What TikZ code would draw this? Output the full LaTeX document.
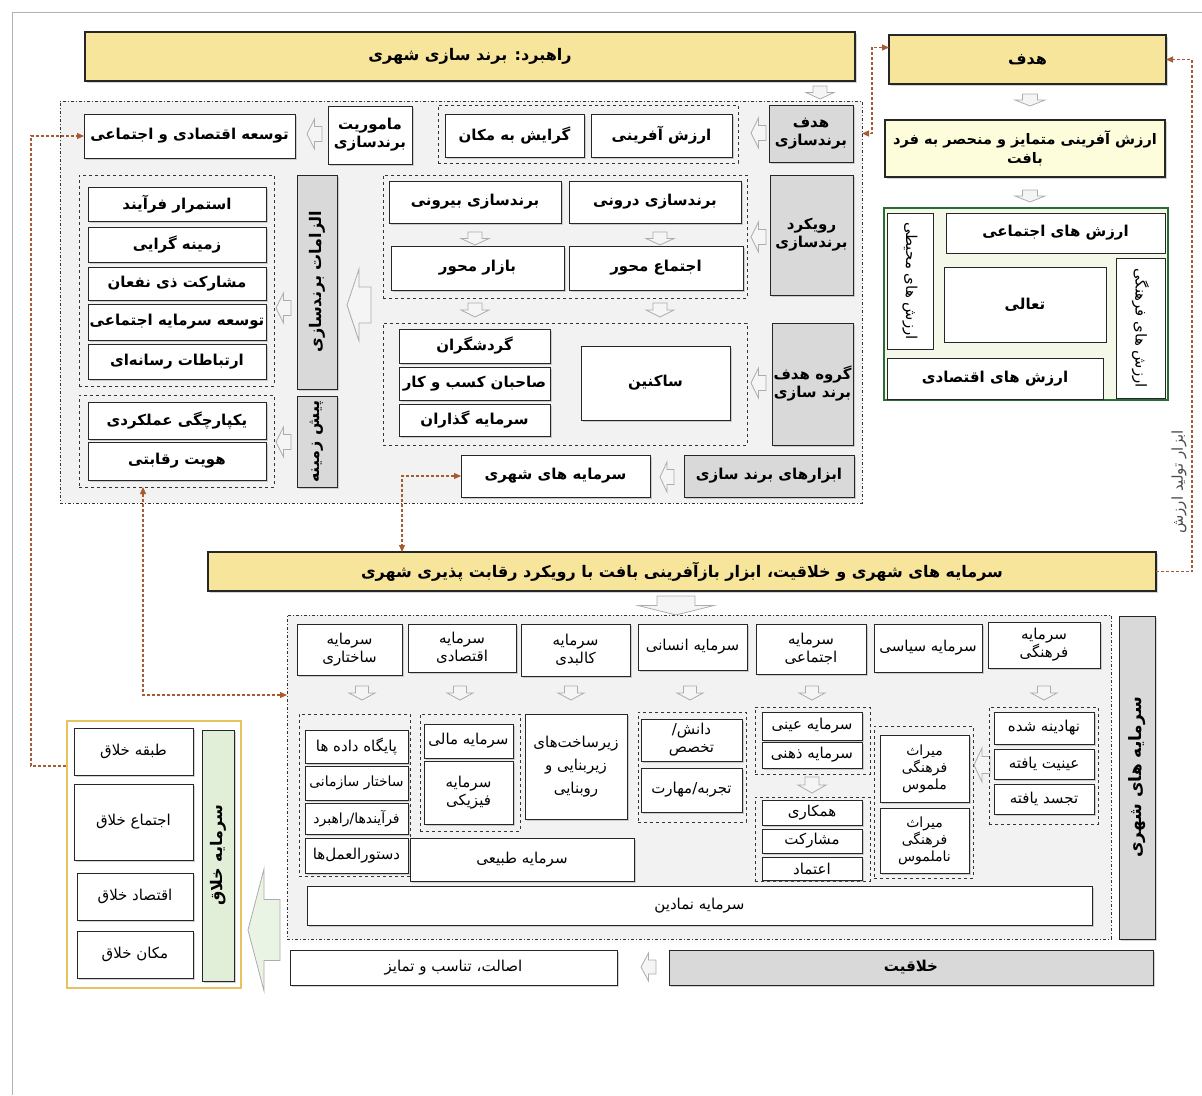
\documentclass[tikz,border=0pt]{standalone}
\usepackage{fontspec}
\usetikzlibrary{shadows,arrows.meta}
\newfontfamily\fa[Script=Arabic]{DejaVu Sans}
\TeXXeTstate=1
\newcommand\fatx[1]{\beginR #1\endR}
\definecolor{yband}{HTML}{F8E59C}
\definecolor{lyel}{HTML}{FDFDDC}
\definecolor{lgreen}{HTML}{F3F8E8}
\definecolor{lgreenB}{HTML}{E1EFD9}
\definecolor{dgreen}{HTML}{2D6A35}
\definecolor{goldb}{HTML}{E6C35C}
\definecolor{siennaC}{HTML}{A85A32}
\newcommand\mybx[7][]{\node[bx,#1,minimum width={#5-#3},minimum height={#6-#4}] (#2) at ({(#3+#5)/2},{(#4+#6)/2}) {#7};}
\newcommand\mydarr[4]{\draw[harrow] ({#1-#3/4},#2) -- ({#1+#3/4},#2) -- ({#1+#3/4},{#2+#4/2}) -- ({#1+#3/2},{#2+#4/2}) -- (#1,{#2+#4}) -- ({#1-#3/2},{#2+#4/2}) -- ({#1-#3/4},{#2+#4/2}) -- cycle;}
\newcommand\mylarr[5][]{\draw[harrow,#1] (#2,#3) -- ({#2+#4*0.5},{#3-#5/2}) -- ({#2+#4*0.5},{#3-#5/4}) -- ({#2+#4},{#3-#5/4}) -- ({#2+#4},{#3+#5/4}) -- ({#2+#4*0.5},{#3+#5/4}) -- ({#2+#4*0.5},{#3+#5/2}) -- cycle;}
\begin{document}
\begin{tikzpicture}[x=1pt,y=-1pt,
  bx/.style={draw=black!85, line width=1pt, fill=white, inner sep=1pt, outer sep=0pt, align=center, text=black, font=\fa\bfseries\fontsize{15}{18}\selectfont},
  sm/.style={font=\fa\fontsize{15}{18}\selectfont},
  rg/.style={font=\fa\fontsize{15}{18}\selectfont},
  sh/.style={drop shadow={shadow xshift=1.5pt,shadow yshift=-1.5pt,opacity=.35}},
  gbx/.style={fill=black!15, font=\fa\bfseries\fontsize{15}{18}\selectfont},
  ybx/.style={fill=yband, line width=1.6pt, font=\fa\bfseries\fontsize{16}{19}\selectfont},
  grp/.style={draw=black!80, dashed, line width=0.9pt, fill=none},
  pnl/.style={draw=black!80, dash dot, line width=1pt, fill=black!5},
  harrow/.style={draw=gray!65, fill=gray!8, line width=0.8pt, line join=miter},
  vtxt/.style={font=\fa\bfseries\fontsize{16}{18}\selectfont, inner sep=0pt},
  vtxs/.style={font=\fa\fontsize{15}{17}\selectfont, inner sep=0pt},
  conn/.style={draw=siennaC, densely dashed, line width=1.1pt},
  >={Triangle[length=7pt,width=6pt]}
]
\useasboundingbox (0,0) rectangle (1202,1095);
\draw[gray!60, line width=1pt] (12,1095) -- (12,12) -- (1202,12);

% ---------- top right ----------
\mybx[ybx,sh]{hadaf}{889}{35}{1166}{84}{\fatx{هدف}}
\mydarr{1030}{94}{30}{12}
\mybx[fill=lyel,sh,line width=1.3pt,font=\fa\bfseries\fontsize{14.5}{19}\selectfont]{arzeshA}{885}{120}{1165}{177}{\fatx{ارزش آفرینی متمایز و منحصر به فرد}\\\fatx{بافت}}
\mydarr{1030}{190}{30}{12}
\mybx[draw=dgreen,line width=1.6pt,fill=lgreen]{valbox}{884}{208}{1168}{400}{}
\mybx{vsoc}{946}{213}{1165}{253}{\fatx{ارزش های اجتماعی}}
\mybx{venv}{887}{213}{933}{349}{}
\node[vtxs,rotate=-90] (venvt) at (venv) {\fatx{ارزش های محیطی}};
\mybx{vtal}{944}{267}{1106}{342}{\fatx{تعالی}}
\mybx{vcul}{1116}{258}{1165}{398}{}
\node[vtxs,rotate=-90] (vcult) at (vcul) {\fatx{ارزش های فرهنگی}};
\mybx{veco}{887}{358}{1103}{399}{\fatx{ارزش های اقتصادی}}

% ---------- top band ----------
\mybx[ybx,sh]{rahbord}{85}{32}{855}{81}{\fatx{راهبرد: برند سازی شهری}}

% ---------- panel A ----------
\mybx[pnl]{panelA}{60}{101}{862}{503}{}
\mydarr{820}{86}{28}{13}
\mybx[gbx,sh]{hbrand}{769}{105}{853}{162}{\fatx{هدف}\\\fatx{برندسازی}}
\mylarr{751}{133}{15}{30}
\mybx[grp]{g1}{438}{105}{738}{163}{}
\mybx[sh]{arzAf}{591}{114}{732}{157}{\fatx{ارزش آفرینی}}
\mybx[sh]{gerayesh}{445}{114}{584}{157}{\fatx{گرایش به مکان}}
\mybx[sh]{mamur}{328}{106}{412}{164}{\fatx{ماموریت}\\\fatx{برندسازی}}
\mylarr{307}{134}{15}{30}
\mybx[sh]{tose}{84}{114}{295}{158}{\fatx{توسعه اقتصادی و اجتماعی}}

\mybx[gbx,sh]{ruykard}{770}{175}{853}{295}{\fatx{رویکرد}\\\fatx{برندسازی}}
\mylarr{751}{237}{15}{30}
\mybx[grp]{g2}{383}{175}{747}{298}{}
\mybx[sh]{darun}{569}{181}{741}{223}{\fatx{برندسازی درونی}}
\mybx[sh]{birun}{389}{181}{561}{223}{\fatx{برندسازی بیرونی}}
\mydarr{660}{232}{28}{13}
\mydarr{475}{232}{28}{13}
\mybx[sh]{ejtmah}{569}{246}{743}{290}{\fatx{اجتماع محور}}
\mybx[sh]{bazar}{391}{246}{564}{290}{\fatx{بازار محور}}
\mydarr{660}{303}{28}{14}
\mydarr{475}{303}{28}{14}

\mybx[gbx,sh]{goruh}{772}{323}{853}{445}{\fatx{گروه هدف}\\\fatx{برند سازی}}
\mylarr{751}{383}{15}{30}
\mybx[grp]{g3}{383}{323}{747}{445}{}
\mybx[sh]{gard}{399}{329}{550}{363}{\fatx{گردشگران}}
\mybx[sh]{saheb}{399}{367}{550}{400}{\fatx{صاحبان کسب و کار}}
\mybx[sh]{sarg}{399}{404}{550}{436}{\fatx{سرمایه گذاران}}
\mybx[sh]{sakenin}{581}{346}{730}{420}{\fatx{ساکنین}}

\mybx[gbx,sh]{abzar}{684}{455}{854}{497}{\fatx{ابزارهای برند سازی}}
\mylarr{660}{477}{14}{30}
\mybx[sh]{sarshahri}{461}{455}{650}{497}{\fatx{سرمایه های شهری}}

\mylarr{347}{305}{24}{72}
\mybx[gbx,sh]{elzam}{297}{175}{337}{389}{}
\node[vtxt,rotate=90] (elzamt) at (elzam) {\fatx{الزامات برندسازی}};
\mylarr{276}{308}{15}{30}
\mybx[grp]{g4}{79}{175}{274}{386}{}
\mybx[sh]{k1}{88}{187}{266}{221}{\fatx{استمرار فرآیند}}
\mybx[sh]{k2}{88}{227}{266}{262}{\fatx{زمینه گرایی}}
\mybx[sh]{k3}{88}{267}{266}{300}{\fatx{مشارکت ذی نفعان}}
\mybx[sh]{k4}{88}{304}{266}{340}{\fatx{توسعه سرمایه اجتماعی}}
\mybx[sh]{k5}{88}{344}{266}{379}{\fatx{ارتباطات رسانه^^^^200cای}}

\mybx[gbx,sh]{pish}{297}{396}{337}{487}{}
\node[vtxt,rotate=90] (pisht) at (pish) {\fatx{پیش زمینه}};
\mylarr{276}{442}{15}{30}
\mybx[grp]{g5}{79}{395}{274}{487}{}
\mybx[sh]{k6}{88}{402}{266}{439}{\fatx{یکپارچگی عملکردی}}
\mybx[sh]{k7}{88}{442}{266}{480}{\fatx{هویت رقابتی}}

% ---------- middle band ----------
\mybx[ybx,sh]{band}{208}{552}{1156}{591}{\fatx{سرمایه های شهری و خلاقیت، ابزار بازآفرینی بافت با رویکرد رقابت پذیری شهری}}
\mydarr{676}{596}{76}{19}

% ---------- panel B ----------
\mybx[pnl]{panelB}{287}{615}{1111}{939}{}
\mybx[gbx,sh]{shahriV}{1119}{616}{1155}{939}{}
\node[vtxt,rotate=90,font=\fa\bfseries\fontsize{17}{19}\selectfont] (shahriVt) at (shahriV) {\fatx{سرمایه های شهری}};

\mybx[sm,sh]{cfar}{988}{622}{1100}{668}{\fatx{سرمایه}\\\fatx{فرهنگی}}
\mybx[sm,sh]{csia}{874}{624}{982}{672}{\fatx{سرمایه سیاسی}}
\mybx[sm,sh]{cejt}{756}{624}{866}{674}{\fatx{سرمایه}\\\fatx{اجتماعی}}
\mybx[sm,sh]{cens}{638}{624}{747}{670}{\fatx{سرمایه انسانی}}
\mybx[sm,sh]{ckal}{521}{624}{630}{676}{\fatx{سرمایه}\\\fatx{کالبدی}}
\mybx[sm,sh]{ceqt}{408}{624}{516}{672}{\fatx{سرمایه}\\\fatx{اقتصادی}}
\mybx[sm,sh]{csak}{297}{624}{402}{675}{\fatx{سرمایه}\\\fatx{ساختاری}}

\mydarr{362}{686}{26}{14}
\mydarr{460}{686}{26}{14}
\mydarr{571}{686}{26}{14}
\mydarr{690}{686}{26}{14}
\mydarr{812}{686}{26}{14}
\mydarr{1044}{686}{26}{14}

\mybx[grp]{gs}{299}{714}{410}{876}{}
\mybx[sm,sh]{s1}{305}{730}{408}{763}{\fatx{پایگاه داده ها}}
\mybx[sm,sh,font=\fa\fontsize{14}{17}\selectfont]{s2}{305}{766}{408}{800}{\fatx{ساختار سازمانی}}
\mybx[sm,sh,font=\fa\fontsize{14}{17}\selectfont]{s3}{305}{803}{408}{834}{\fatx{فرآیندها/راهبرد}}
\mybx[sm,sh]{s4}{305}{838}{408}{873}{\fatx{دستورالعمل^^^^200cها}}

\mybx[grp]{ge}{420}{714}{520}{831}{}
\mybx[sm,sh]{e1}{424}{724}{513}{758}{\fatx{سرمایه مالی}}
\mybx[sm,sh]{e2}{424}{761}{513}{824}{\fatx{سرمایه}\\\fatx{فیزیکی}}

\mybx[sm,sh]{zir}{525}{714}{627}{819}{\fatx{زیرساخت^^^^200cهای}\\[5pt]\fatx{زیربنایی و}\\[5pt]\fatx{روبنایی}}
\mybx[sm,sh]{tabii}{410}{838}{634}{881}{\fatx{سرمایه طبیعی}}

\mybx[grp]{gh}{638}{712}{746}{822}{}
\mybx[sm,sh]{h1}{641}{719}{742}{761}{\fatx{دانش/}\\\fatx{تخصص}}
\mybx[sm,sh]{h2}{641}{768}{742}{812}{\fatx{تجربه/مهارت}}

\mybx[grp]{gj1}{755}{707}{870}{774}{}
\mybx[sm,sh]{j1}{762}{712}{862}{740}{\fatx{سرمایه عینی}}
\mybx[sm,sh]{j2}{762}{742}{862}{768}{\fatx{سرمایه ذهنی}}
\mydarr{812}{777}{28}{16}
\mybx[grp]{gj2}{755}{797}{870}{881}{}
\mybx[sm,sh]{j3}{762}{800}{862}{825}{\fatx{همکاری}}
\mybx[sm,sh]{j4}{762}{829}{862}{853}{\fatx{مشارکت}}
\mybx[sm,sh]{j5}{762}{857}{862}{880}{\fatx{اعتماد}}

\mybx[grp]{gm}{874}{726}{973}{878}{}
\mybx[sm,sh,font=\fa\fontsize{14}{17}\selectfont]{m1}{880}{735}{969}{802}{\fatx{میراث}\\\fatx{فرهنگی}\\\fatx{ملموس}}
\mybx[sm,sh,font=\fa\fontsize{14}{17}\selectfont]{m2}{880}{808}{969}{873}{\fatx{میراث}\\\fatx{فرهنگی}\\\fatx{ناملموس}}
\mylarr{974}{765}{16}{34}

\mybx[grp]{gf}{989}{707}{1098}{824}{}
\mybx[sm,sh]{f1}{994}{712}{1094}{744}{\fatx{نهادینه شده}}
\mybx[sm,sh]{f2}{994}{749}{1094}{779}{\fatx{عینیت یافته}}
\mybx[sm,sh]{f3}{994}{784}{1094}{814}{\fatx{تجسد یافته}}

\mybx[sm,sh]{namadin}{307}{886}{1092}{925}{\fatx{سرمایه نمادین}}

\mybx[gbx,sh]{khalaq}{669}{950}{1153}{985}{\fatx{خلاقیت}}
\mylarr{641}{967}{15}{28}
\mybx[rg,sh]{esalat}{290}{950}{617}{985}{\fatx{اصالت، تناسب و تمایز}}

% ---------- creative ----------
\mylarr[fill=lgreenB!70]{248}{930}{32}{122}
\mybx[draw=goldb,line width=1.6pt,fill=white]{creative}{67}{721}{241}{988}{}
\mybx[rg,sh]{cr1}{74}{728}{193}{775}{\fatx{طبقه خلاق}}
\mybx[rg,sh]{cr2}{74}{784}{193}{860}{\fatx{اجتماع خلاق}}
\mybx[rg,sh]{cr3}{77}{873}{193}{920}{\fatx{اقتصاد خلاق}}
\mybx[rg,sh]{cr4}{77}{931}{193}{978}{\fatx{مکان خلاق}}
\mybx[fill=lgreenB,sh]{crV}{202}{730}{234}{981}{}
\node[vtxt,rotate=90] (crVt) at (crV) {\fatx{سرمایه خلاق}};

% ---------- connectors ----------
\coordinate (x872) at (872,0);
\coordinate (x1196) at (1192,0);
\coordinate (x31) at (31,0);
\coordinate (x402) at (402,0);
\coordinate (x143) at (143,0);
\coordinate (y695) at (0,695);
\coordinate (crEnd) at (66,766);
\draw[conn,<->] ([yshift=12pt]hadaf.west) -| (x872 |- hbrand.center) -- (panelA.east |- hbrand.center);
\draw[conn,->] (band.east) -| (x1196 |- hadaf.east) -- (hadaf.east);
\node[vtxs,rotate=90,text=black!70] (lbl) at (1179,482) {\fatx{ابزار تولید ارزش}};
\draw[conn,->] (crEnd) -| (x31 |- tose.west) -- (tose.west);
\draw[conn,<->] (sarshahri.west) -| (x402 |- band.north);
\draw[conn,<->] (g5.south -| x143) |- (panelB.west |- y695);
\end{tikzpicture}
\end{document}
